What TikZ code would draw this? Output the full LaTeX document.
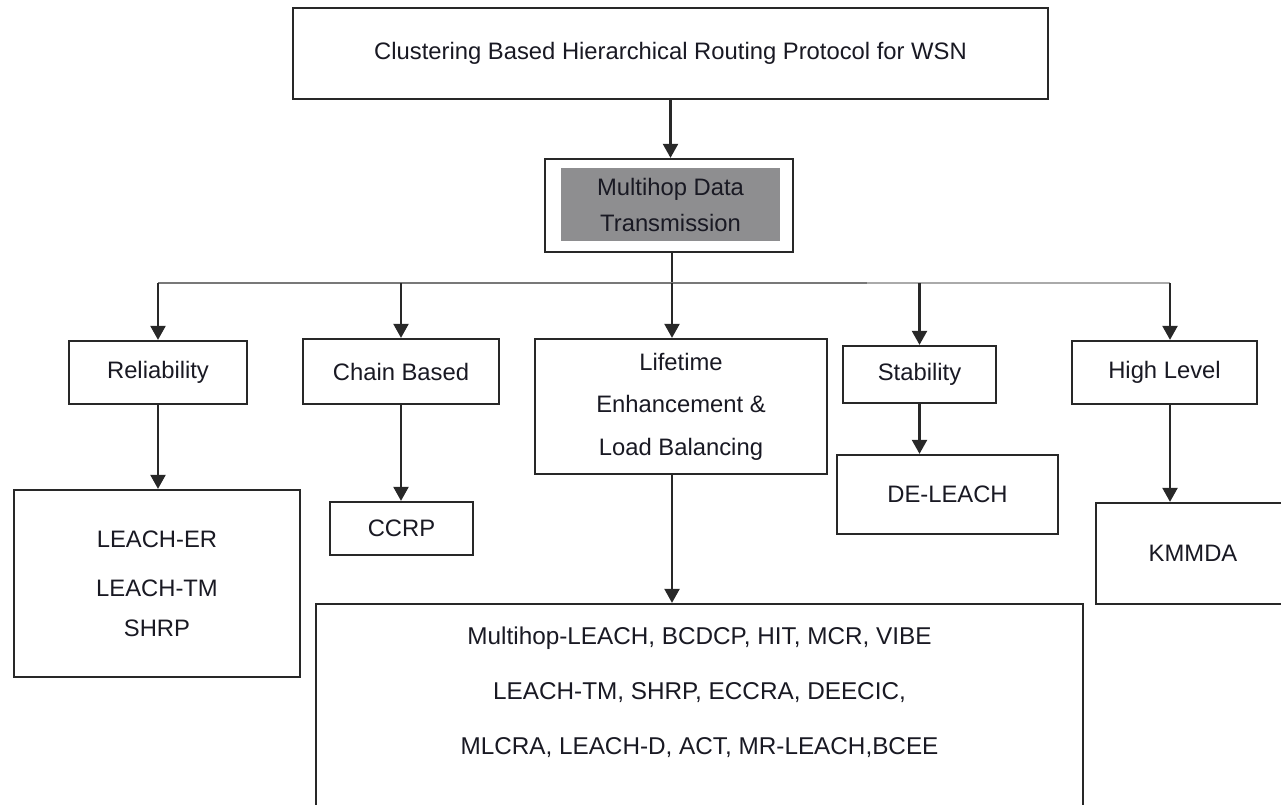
\documentclass[tikz,border=0pt]{standalone}
\usepackage{fontspec}
\setmainfont{Liberation Sans}
\usetikzlibrary{arrows.meta}
\definecolor{edge}{RGB}{40,40,40}
\definecolor{ink}{RGB}{25,25,35}
\definecolor{shade}{RGB}{142,142,144}
\definecolor{busdark}{RGB}{120,120,120}
\definecolor{buslight}{RGB}{170,170,170}
\begin{document}
\begin{tikzpicture}[x=1pt,y=-1pt,
  box/.style={draw=edge, line width=2.3pt, fill=white, inner sep=0pt,
    text=ink, font=\fontsize{23.8}{28}\selectfont, align=center},
  link/.style={draw=edge, line width=2.3pt, -{Triangle[length=14pt,width=15pt]}},
  busline/.style={line width=2.2pt}]
\useasboundingbox (0,0) rectangle (1281,804);
\fill[white] (0,0) rectangle (1281,804);

% root and second level
\node[box, minimum width=755pt, minimum height=91pt] (top) at (670.5,53.5)
  {Clustering Based Hierarchical Routing Protocol for WSN};
\node[box, minimum width=248pt, minimum height=93pt] (mdt) at (669,205.5) {};
\node[fill=shade, inner sep=0pt, minimum width=219pt, minimum height=73pt,
  text=ink, font=\fontsize{23.8}{36}\selectfont, align=center] (mdtin) at (670.5,204.5)
  {Multihop Data\\Transmission};

% categories
\node[box, minimum width=178pt, minimum height=63pt] (rel) at (158,372.5) {Reliability};
\node[box, minimum width=196pt, minimum height=65pt] (chain) at (401,371.5) {Chain Based};
\node[box, minimum width=292pt, minimum height=135pt, font=\fontsize{23.8}{42.5}\selectfont]
  (life) at (681,406.5) {Lifetime\\Enhancement \&\\Load Balancing};
\node[box, minimum width=153pt, minimum height=57pt] (stab) at (919.5,374.5) {Stability};
\node[box, minimum width=185pt, minimum height=63pt] (hl) at (1164.5,372.5) {High Level};

% protocols
\node[box, minimum width=286pt, minimum height=187pt] (leach) at (157,583.5)
  {LEACH-ER\\[21pt]LEACH-TM\\[12pt]SHRP};
\node[box, minimum width=143pt, minimum height=53pt] (ccrp) at (401.5,528.5) {CCRP};
\node[box, minimum width=221pt, minimum height=79pt] (de) at (947.5,494.5) {DE-LEACH};
\node[box, minimum width=194pt, minimum height=101pt] (km) at (1193,553.5) {KMMDA};
\node[box, minimum width=767pt, minimum height=240pt] (bot) at (699.5,724) {};
\node[text=ink, inner sep=0pt, font=\fontsize{24.3}{55}\selectfont, align=center]
  (bottext) at (699.5,692)
  {Multihop-LEACH, BCDCP, HIT, MCR, VIBE\\LEACH-TM, SHRP, ECCRA, DEECIC,\\MLCRA, LEACH-D, ACT, MR-LEACH,BCEE};

% distribution bus
\coordinate (hub) at (672,283);
\coordinate (fade) at (867,283);
\coordinate (hlx) at ([xshift=5.5pt]hl.north);
\coordinate (hly) at ([xshift=5.5pt]hl.south);

\draw[link] (top.south) -- (top.south |- mdt.north);
\draw[draw=edge, line width=2.3pt] (hub |- mdt.south) -- (hub);
\draw[busline, busdark] (rel.north |- hub) -- (fade);
\draw[busline, buslight] (fade) -- (hlx |- hub);

\draw[link] (rel.north |- hub) -- (rel.north);
\draw[link] (chain.north |- hub) -- (chain.north);
\draw[link] (hub) -- (hub |- life.north);
\draw[link] (stab.north |- hub) -- (stab.north);
\draw[link] (hlx |- hub) -- (hlx);

\draw[link] (rel.south) -- (rel.south |- leach.north);
\draw[link] (chain.south) -- (chain.south |- ccrp.north);
\draw[link] (hub |- life.south) -- (hub |- bot.north);
\draw[link] (stab.south) -- (stab.south |- de.north);
\draw[link] (hly) -- (hly |- km.north);
\end{tikzpicture}
\end{document}
